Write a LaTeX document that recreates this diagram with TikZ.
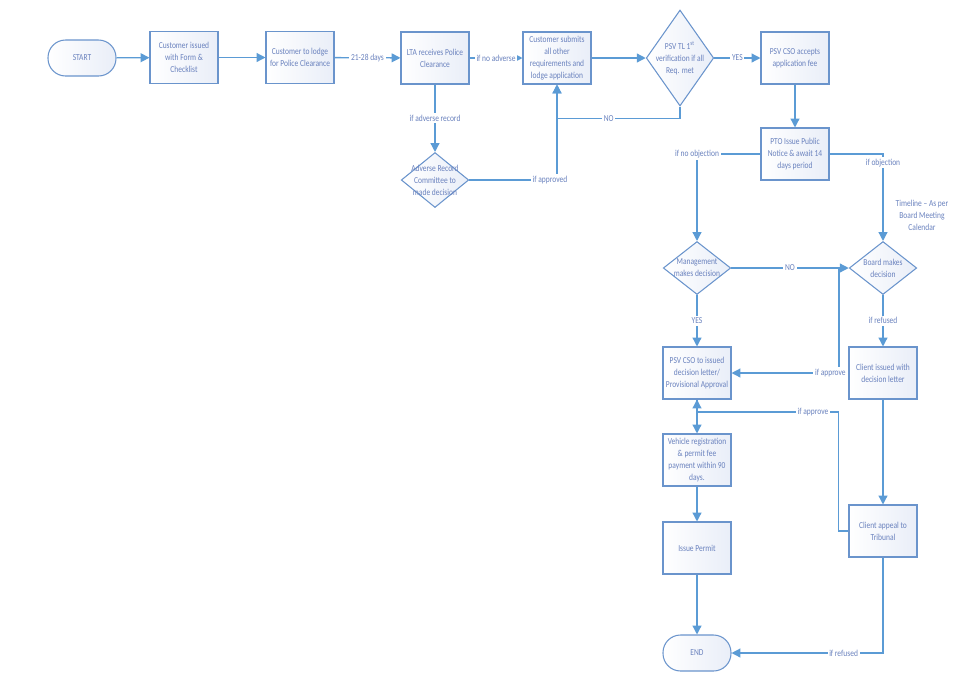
\documentclass[tikz,border=0pt]{standalone}
\usepackage{fontspec}
\setmainfont{Carlito}[FakeStretch=0.82]
\usetikzlibrary{shapes.geometric}
\usetikzlibrary{arrows.meta}
\usetikzlibrary{calc}
\definecolor{flowblue}{HTML}{5B9BD5}
\definecolor{boxline}{HTML}{6A94CC}
\definecolor{flowtext}{HTML}{6A82BE}
\definecolor{boxfill}{HTML}{E9EEF8}
\tikzset{>={Triangle[length=5pt,width=5pt]}}
\tikzset{ed/.style={fill=white,inner sep=1pt,align=center,font=\fontsize{5.2}{6.8}\selectfont,text=flowtext}}
\tikzset{proc/.style={draw=boxline,line width=0.6pt,left color=white,right color=boxfill,minimum width=1.36cm,minimum height=1.04cm,inner sep=0.5pt,align=center,font=\fontsize{5.2}{6.8}\selectfont,text=flowtext}}
\tikzset{term/.style={proc,rounded corners=0.35cm,minimum height=0.72cm}}
\tikzset{dec/.style={diamond,draw=boxline,line width=0.6pt,left color=white,right color=boxfill,inner sep=0pt,minimum width=1.35cm,minimum height=1.06cm}}
\tikzset{dectxt/.style={align=center,inner sep=0pt,font=\fontsize{5.2}{6.8}\selectfont,text=flowtext}}
\tikzset{flow/.style={draw=flowblue,line width=0.75pt}}

\begin{document}
\begin{tikzpicture}[x=0.02cm,y=-0.02cm]
\useasboundingbox (0,0) rectangle (975,691);

% top row
\node[term] (start) at (82,58) {START};
\node[proc] (issued) at (184,57.5) {Customer issued\\with Form \&\\Checklist};
\node[proc] (lodge) at (300,57.5) {Customer to lodge\\for Police Clearance};
\node[proc] (lta) at (435,58) {LTA receives Police\\Clearance};
\node[proc] (submit) at (557,58) {Customer submits\\all other\\requirements and\\lodge application};
\node[dec, minimum height=1.92cm] (verify) at (680,58) {};
\node[dectxt] (verifyt) at (verify) {PSV TL 1\textsuperscript{st}\\verification if all\\Req. met};
\node[proc] (accept) at (795,58) {PSV CSO accepts\\application fee};
\node[dec, minimum height=1.1cm] (adverse) at (435,180) {};
\node[dectxt] (adverset) at (adverse) {Adverse Record\\Committee to\\made decision};

% right part
\node[proc] (notice) at (795,154) {PTO Issue Public\\Notice \& await 14\\days period};
\node[dec] (mgmt) at (697,268) {};
\node[dectxt] (mgmtt) at (mgmt) {Management\\makes decision};
\node[dec] (board) at (883,268) {};
\node[dectxt] (boardt) at (board) {Board makes\\decision};
\node[ed, fill=none] (timeline) at (922,215) {Timeline -- As per\\Board Meeting\\Calendar};
\node[proc] (letter) at (697,373) {PSV CSO to issued\\decision letter/\\Provisional Approval};
\node[proc] (client) at (883,373) {Client issued with\\decision letter};
\node[proc] (vehicle) at (697,460) {Vehicle registration\\\& permit fee\\payment within 90\\days.};
\node[proc] (appeal) at (883,531) {Client appeal to\\Tribunal};
\node[proc] (permit) at (697,548) {Issue Permit};
\node[term] (end) at (697,653) {END};

\coordinate (bapprove) at (839,268);
\coordinate (ajoin) at (697,412);

\draw[flow,->] (start) -- (issued);
\draw[flow,->] (issued) -- (lodge);
\draw[flow,->] (lodge) -- node[ed] {21-28 days} (lta);
\draw[flow,->] (lta) -- node[ed] {if no adverse} (submit);
\draw[flow,->] (submit) -- (verify);
\draw[flow,->] (verify) -- node[ed] {YES} (accept);
\draw[flow,->] (verify.south) -- ++(0,12) -| node[ed,pos=0.29] {NO} (submit.south);
\draw[flow,->] (lta) -- node[ed] {if adverse record} (adverse);
\draw[flow,->] (adverse.east) -| node[ed,pos=0.46] {if approved} (submit.south);

\draw[flow,->] (accept) -- (notice);
\draw[flow,->] (notice.west) -| node[ed,pos=0.5] {if no objection} (mgmt.north);
\draw[flow,->] (notice.east) -| node[ed,pos=0.55] {if objection} (board.north);
\draw[flow,->] (mgmt) -- node[ed] {NO} (board);
\draw[flow,->] (mgmt) -- node[ed] {YES} (letter);
\draw[flow,->] (board) -- node[ed] {if refused} (client);
\draw[flow,->] (bapprove) |- node[ed,pos=0.54] {if approve} (letter.east);
\draw[flow,->] (client) -- (appeal);
\draw[flow,->] (letter) -- (vehicle);
\draw[flow,->] (appeal.west) -- ++(-10,0) |- node[ed,pos=0.59] {if approve} (ajoin) -- (letter.south);
\draw[flow,->] (vehicle) -- (permit);
\draw[flow,->] (permit) -- (end);
\draw[flow,->] (appeal.south) |- node[ed,pos=0.63] {if refused} (end.east);
\end{tikzpicture}
\end{document}
